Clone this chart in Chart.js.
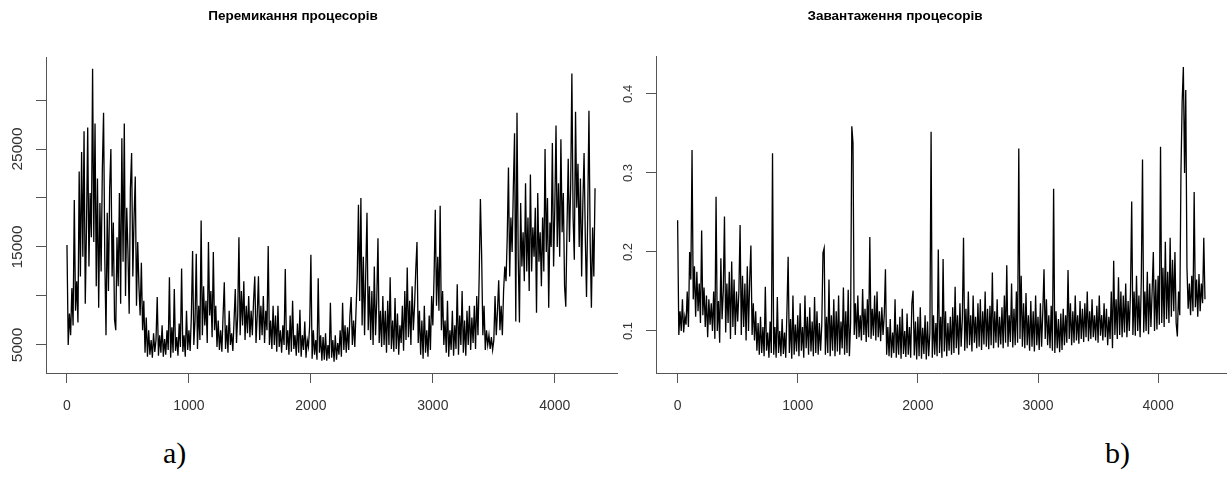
<!DOCTYPE html>
<html>
<head>
<meta charset="utf-8">
<script src="https://cdn.jsdelivr.net/npm/chart.js@4.4.1/dist/chart.umd.min.js"></script>
<style>
  html, body { margin: 0; padding: 0; background: #fff; }
  body { width: 1228px; height: 477px; position: relative; overflow: hidden; font-family: 'Liberation Sans', Arial, sans-serif; }
  canvas { position: absolute; top: 0; }
  #switchChart { left: 0; }
  #loadChart { left: 600px; }
  .title { position: absolute; top: 8px; width: 260px; text-align: center; font-weight: bold; font-size: 13.5px; line-height: 16px; color: #000; }
  .caption { position: absolute; top: 438px; font-family: 'Liberation Serif', 'Times New Roman', serif; font-size: 30px; line-height: 30px; color: #000; }
</style>
</head>
<body>
<canvas id="switchChart" width="620" height="420"></canvas>
<canvas id="loadChart" width="628" height="420"></canvas>
<div class="title" style="left:163px">Перемикання процесорів</div>
<div class="title" style="left:765px">Завантаження процесорів</div>
<div class="caption" style="left:163px">a)</div>
<div class="caption" style="left:1105px">b)</div>
<script>
// Tick positions and labels
const xTicks = [0, 1000, 2000, 3000, 4000];
const switchYTicks = [5000, 10000, 15000, 20000, 25000, 30000];
const switchYTickLabels = [5000, 15000, 25000];
const loadYTicks = [0.1, 0.2, 0.3, 0.4];
const loadYTickLabels = [0.1, 0.2, 0.3, 0.4];

// a) processor context switches, one value every 10 samples
const switchStep = 10;
const switchValues = [
    15200, 5000, 8200, 6000, 10800, 7000, 19800, 8500, 11500, 7300,
    22700, 12000, 24700, 14000, 26800, 9200, 17000, 27200, 13000, 20500,
    16000, 33200, 15500, 27600, 11000, 22000, 8800, 19500, 12500, 23000,
    28700, 14000, 6000, 18500, 10500, 21000, 25000, 12000, 17500, 7600,
    6500, 16000, 11000, 20500, 9200, 26100, 13500, 27600, 10000, 19000,
    14500, 8200, 21000, 24600, 12000, 18000, 22200, 9000, 15500, 11000,
    8000, 13400, 6500, 9500, 4200, 7800, 3800, 6500, 4000, 5500,
    3700, 6200, 4300, 5500, 9900, 3900, 6000, 4200, 7000, 3800,
    5600, 4000, 6500, 4500, 11900, 3700, 6800, 4200, 10700, 4400,
    5800, 3900, 7200, 4800, 12800, 4300, 6000, 3800, 8500, 4500,
    6500, 4400, 8000, 14600, 5000, 7500, 14300, 4600, 9000, 5500,
    17700, 6000, 11000, 7000, 9500, 5200, 15500, 8000, 10500, 5800,
    14500, 6500, 9000, 4800, 7500, 4500, 6500, 4300, 8000, 11400,
    4600, 7000, 4200, 8500, 5000, 6200, 4400, 7500, 10700, 5200,
    8000, 16000, 6000, 10500, 7000, 11500, 5500, 9000, 6200, 10000,
    5800, 8500, 6000, 9500, 12000, 5200, 8000, 12000, 5500, 9000,
    6000, 10000, 5200, 8500, 6500, 15100, 5000, 7500, 4600, 9000,
    5000, 8000, 4300, 9000, 4800, 6500, 4200, 7000, 5000, 12750,
    4500, 6500, 4000, 8000, 4300, 9500, 4600, 6000, 3900, 7200,
    4200, 8600, 3800, 6000, 4500, 7400, 3700, 5500, 4800, 7000,
    14200, 3600, 6500, 4000, 5500, 3500, 11800, 4200, 6000, 3400,
    5800, 3500, 6200, 3400, 5000, 3600, 9300, 3700, 5500, 3300,
    6000, 3500, 5200, 4000, 6500, 3800, 9300, 4500, 7000, 4200,
    6800, 4500, 8000, 9900, 5000, 7500, 4800, 8500, 12000, 19300,
    9500, 20000, 7000, 14000, 6000, 12500, 18500, 6500, 11000, 5500,
    10500, 5000, 13000, 6000, 9500, 15900, 5200, 8500, 4800, 10000,
    5000, 8500, 4200, 9500, 5000, 11900, 4600, 7500, 4300, 9800,
    4600, 8200, 4000, 7000, 5200, 9000, 4400, 10500, 5500, 12900,
    5800, 9500, 5000, 11000, 6500, 9000, 12700, 15500, 5200, 8500,
    4000, 7500, 3600, 9000, 4200, 6500, 3800, 8000, 4500, 10000,
    7000, 12000, 18800, 9000, 14000, 8500, 19200, 6500, 10500, 5000,
    7500, 4200, 9500, 3800, 6500, 4500, 8500, 3900, 7000, 4600,
    11200, 4000, 8000, 5000, 10500, 4200, 7500, 3900, 8500, 5000,
    9000, 4500, 7800, 5200, 9000, 4600, 10000, 6000, 12000, 19900,
    14200, 6000, 9000, 4500, 6500, 5000, 6000, 4600, 5800, 4500,
    5500, 10000, 6000, 8500, 11600, 6500, 9000, 6000, 10500, 13000,
    11500, 16000, 23100, 12000, 18000, 14500, 21000, 26600, 7400, 28700,
    14000, 7300, 19500, 13000, 16500, 11500, 21500, 12500, 18000, 10500,
    22400, 12500, 17000, 14000, 19000, 8300, 20500, 13500, 16500, 11000,
    18000, 12500, 25000, 14500, 20000, 8800, 17500, 15000, 25600, 13000,
    19000, 27400, 15000, 21500, 14000, 26000, 16500, 20500, 11000, 8900,
    17000, 24000, 15500, 21000, 32700, 18000, 13700, 28800, 19000, 23500,
    15000, 22000, 12000, 19500, 24600, 16000, 9900, 18500, 28900, 15500,
    8800, 17000, 12000, 21000
];

// b) processor load, one value every 10 samples
const loadStep = 10;
const loadValues = [
    0.240, 0.095, 0.125, 0.100, 0.140, 0.098, 0.118, 0.108, 0.150, 0.105,
    0.200, 0.165, 0.329, 0.140, 0.182, 0.118, 0.175, 0.125, 0.160, 0.110,
    0.227, 0.120, 0.155, 0.105, 0.145, 0.092, 0.140, 0.108, 0.135, 0.100,
    0.150, 0.090, 0.270, 0.100, 0.138, 0.085, 0.192, 0.115, 0.150, 0.245,
    0.098, 0.160, 0.110, 0.175, 0.090, 0.188, 0.105, 0.165, 0.095, 0.150,
    0.112, 0.150, 0.234, 0.095, 0.170, 0.105, 0.160, 0.088, 0.182, 0.100,
    0.165, 0.208, 0.095, 0.135, 0.088, 0.125, 0.075, 0.110, 0.070, 0.118,
    0.072, 0.105, 0.068, 0.156, 0.075, 0.098, 0.066, 0.112, 0.072, 0.325,
    0.070, 0.105, 0.066, 0.143, 0.072, 0.100, 0.068, 0.115, 0.071, 0.098,
    0.066, 0.125, 0.194, 0.072, 0.115, 0.065, 0.145, 0.070, 0.108, 0.074,
    0.120, 0.068, 0.135, 0.075, 0.105, 0.066, 0.145, 0.078, 0.118, 0.070,
    0.130, 0.074, 0.112, 0.068, 0.143, 0.072, 0.125, 0.070, 0.110, 0.075,
    0.108, 0.199, 0.205, 0.070, 0.118, 0.072, 0.165, 0.068, 0.120, 0.075,
    0.140, 0.068, 0.125, 0.074, 0.145, 0.070, 0.112, 0.078, 0.155, 0.070,
    0.125, 0.072, 0.152, 0.068, 0.110, 0.359, 0.338, 0.095, 0.135, 0.090,
    0.145, 0.092, 0.120, 0.088, 0.153, 0.095, 0.128, 0.086, 0.140, 0.092,
    0.219, 0.090, 0.128, 0.094, 0.145, 0.088, 0.150, 0.092, 0.125, 0.087,
    0.130, 0.095, 0.120, 0.178, 0.070, 0.105, 0.068, 0.115, 0.066, 0.098,
    0.072, 0.140, 0.066, 0.108, 0.070, 0.118, 0.065, 0.128, 0.071, 0.100,
    0.067, 0.122, 0.070, 0.105, 0.066, 0.135, 0.151, 0.069, 0.112, 0.064,
    0.118, 0.068, 0.130, 0.065, 0.104, 0.071, 0.120, 0.064, 0.112, 0.068,
    0.098, 0.352, 0.066, 0.120, 0.070, 0.110, 0.068, 0.203, 0.072, 0.118,
    0.066, 0.191, 0.074, 0.125, 0.068, 0.110, 0.075, 0.118, 0.070, 0.130,
    0.072, 0.156, 0.078, 0.120, 0.070, 0.135, 0.080, 0.115, 0.218, 0.075,
    0.128, 0.078, 0.150, 0.082, 0.120, 0.074, 0.145, 0.085, 0.118, 0.078,
    0.135, 0.080, 0.140, 0.076, 0.125, 0.083, 0.150, 0.080, 0.128, 0.077,
    0.132, 0.082, 0.174, 0.078, 0.125, 0.085, 0.140, 0.079, 0.118, 0.083,
    0.130, 0.078, 0.145, 0.085, 0.183, 0.080, 0.120, 0.086, 0.160, 0.079,
    0.128, 0.082, 0.150, 0.085, 0.331, 0.090, 0.170, 0.080, 0.135, 0.078,
    0.148, 0.082, 0.120, 0.075, 0.138, 0.080, 0.125, 0.074, 0.145, 0.082,
    0.118, 0.076, 0.135, 0.080, 0.125, 0.178, 0.090, 0.140, 0.082, 0.120,
    0.078, 0.132, 0.075, 0.280, 0.072, 0.125, 0.078, 0.115, 0.073, 0.122,
    0.076, 0.128, 0.082, 0.120, 0.085, 0.177, 0.090, 0.135, 0.082, 0.125,
    0.085, 0.145, 0.088, 0.120, 0.084, 0.138, 0.090, 0.128, 0.086, 0.135,
    0.092, 0.150, 0.087, 0.125, 0.090, 0.140, 0.092, 0.120, 0.088, 0.132,
    0.085, 0.145, 0.094, 0.120, 0.088, 0.135, 0.092, 0.128, 0.082, 0.118,
    0.090, 0.150, 0.078, 0.189, 0.095, 0.140, 0.090, 0.168, 0.095, 0.150,
    0.092, 0.145, 0.098, 0.160, 0.092, 0.138, 0.100, 0.150, 0.264, 0.095,
    0.150, 0.094, 0.170, 0.100, 0.145, 0.092, 0.165, 0.317, 0.098, 0.150,
    0.100, 0.175, 0.096, 0.160, 0.105, 0.150, 0.200, 0.100, 0.165, 0.102,
    0.170, 0.108, 0.333, 0.110, 0.180, 0.105, 0.213, 0.115, 0.175, 0.110,
    0.218, 0.118, 0.190, 0.125, 0.200, 0.110, 0.093, 0.150, 0.120, 0.300,
    0.390, 0.434, 0.300, 0.405, 0.180, 0.128, 0.160, 0.120, 0.170, 0.125,
    0.276, 0.130, 0.165, 0.118, 0.172, 0.125, 0.160, 0.135, 0.218, 0.140
];

const axisColor = '#555';
const labelColor = '#333';
const fontFamily = "'Liberation Sans', Arial, sans-serif";

// R-style plot: L-shaped box, outward ticks, rotated y labels, no grid
function createRPlot(canvasId, step, values, cfg) {
    const points = values.map((v, i) => ({ x: i * step, y: v }));

    return new Chart(document.getElementById(canvasId), {
        type: 'line',
        data: {
            datasets: [{
                data: points,
                borderColor: '#000',
                borderWidth: 1.3,
                pointRadius: 0,
                tension: 0,
                fill: false
            }]
        },
        options: {
            responsive: false,
            animation: false,
            events: [],
            layout: {
                padding: { top: cfg.top, right: cfg.right, left: 0, bottom: 0 }
            },
            plugins: {
                legend: { display: false },
                tooltip: { enabled: false },
                title: { display: false }
            },
            scales: {
                x: {
                    type: 'linear',
                    min: cfg.xMin,
                    max: cfg.xMax,
                    afterBuildTicks: (scale) => { scale.ticks = xTicks.map(v => ({ value: v })); },
                    afterFit: (scale) => { scale.height = cfg.xAxisHeight; },
                    grid: { drawOnChartArea: false, drawTicks: true, tickLength: 10, color: axisColor },
                    border: { display: true, color: axisColor, width: 1 },
                    ticks: {
                        autoSkip: false,
                        maxRotation: 0,
                        padding: 15,
                        color: labelColor,
                        font: { family: fontFamily, size: 14 },
                        callback: (v) => String(v)
                    }
                },
                y: {
                    type: 'linear',
                    min: cfg.yMin,
                    max: cfg.yMax,
                    afterBuildTicks: (scale) => { scale.ticks = cfg.yTicks.map(v => ({ value: v })); },
                    afterFit: (scale) => { scale.width = cfg.yAxisWidth; },
                    grid: { drawOnChartArea: false, drawTicks: true, tickLength: 10, color: axisColor },
                    border: { display: true, color: axisColor, width: 1 },
                    ticks: {
                        autoSkip: false,
                        minRotation: 90,
                        maxRotation: 90,
                        crossAlign: 'center',
                        padding: cfg.yPad,
                        color: labelColor,
                        font: { family: fontFamily, size: cfg.yFont },
                        callback: (v) => cfg.yLabels.includes(v) ? String(v) : ''
                    }
                }
            }
        }
    });
}

createRPlot('switchChart', switchStep, switchValues, {
    top: 57, right: 3, xAxisHeight: 47, yAxisWidth: 46,
    xMin: -172, xMax: 4510, yMin: 2140, yMax: 34390,
    yTicks: switchYTicks, yLabels: switchYTickLabels, yPad: -3.5, yFont: 15.5
});

createRPlot('loadChart', loadStep, loadValues, {
    top: 56, right: 2, xAxisHeight: 47, yAxisWidth: 56,
    xMin: -180, xMax: 4565, yMin: 0.0468, yMax: 0.448,
    yTicks: loadYTicks, yLabels: loadYTickLabels, yPad: 9, yFont: 13
});
</script>
</body>
</html>
